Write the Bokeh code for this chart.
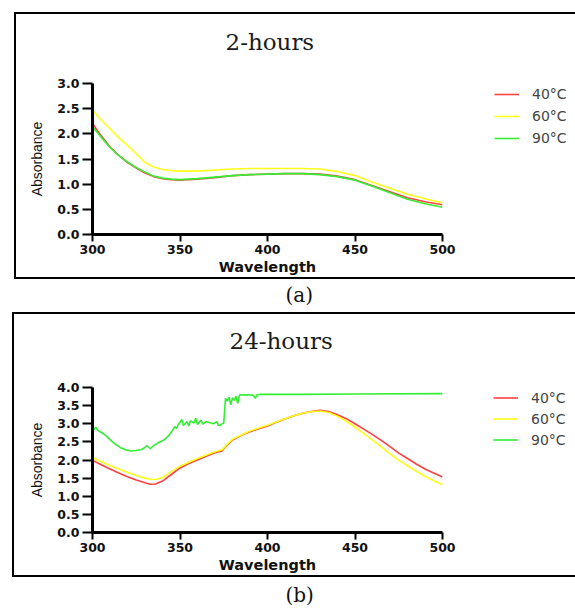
from bokeh.plotting import figure
from bokeh.models import (Range1d, FixedTicker, PrintfTickFormatter, Legend,
                          LegendItem, Title)
from bokeh.layouts import column, row
from bokeh.embed import file_html
from bokeh.resources import INLINE

# ---------------- data ----------------
series_labels = ["40°C", "60°C", "90°C"]
x_ticks = [300, 350, 400, 450, 500]
y_ticks_a = [0.0, 0.5, 1.0, 1.5, 2.0, 2.5, 3.0]
y_ticks_b = [0.0, 0.5, 1.0, 1.5, 2.0, 2.5, 3.0, 3.5, 4.0]

# (a) 2-hours
wl_a = [300, 305, 310, 315, 320, 325, 330, 335, 340, 345, 350, 360, 370, 380,
        390, 400, 410, 420, 430, 440, 450, 460, 470, 480, 490, 500]
a_40 = [2.20, 1.96, 1.74, 1.57, 1.43, 1.32, 1.22, 1.15, 1.11, 1.09, 1.08, 1.10,
        1.13, 1.17, 1.19, 1.20, 1.21, 1.21, 1.20, 1.16, 1.09, 0.97, 0.85, 0.73,
        0.65, 0.59]
a_60 = [2.47, 2.27, 2.10, 1.92, 1.77, 1.60, 1.43, 1.34, 1.29, 1.27, 1.26, 1.26,
        1.28, 1.30, 1.31, 1.31, 1.31, 1.31, 1.30, 1.25, 1.17, 1.04, 0.92, 0.80,
        0.71, 0.63]
a_90 = [2.14, 1.93, 1.73, 1.57, 1.44, 1.33, 1.24, 1.16, 1.12, 1.10, 1.09, 1.11,
        1.14, 1.17, 1.19, 1.20, 1.21, 1.21, 1.19, 1.15, 1.08, 0.96, 0.83, 0.70,
        0.61, 0.54]

# (b) 24-hours
wl_b = [300, 305, 310, 315, 320, 325, 330, 333, 336, 340, 345, 350, 355, 360,
        365, 370, 374, 376, 380, 385, 390, 395, 400, 405, 410, 415, 420, 425,
        430, 435, 440, 445, 450, 455, 460, 465, 470, 475, 480, 485, 490, 495, 500]
b_40 = [1.99, 1.87, 1.75, 1.64, 1.54, 1.45, 1.37, 1.33, 1.34, 1.42, 1.60, 1.78,
        1.90, 2.00, 2.10, 2.20, 2.25, 2.37, 2.55, 2.68, 2.78, 2.86, 2.94, 3.04,
        3.13, 3.22, 3.29, 3.34, 3.37, 3.34, 3.25, 3.14, 3.00, 2.85, 2.70, 2.54,
        2.37, 2.19, 2.04, 1.89, 1.75, 1.64, 1.53]
b_60 = [2.06, 1.95, 1.85, 1.75, 1.66, 1.57, 1.50, 1.47, 1.46, 1.52, 1.68, 1.83,
        1.94, 2.04, 2.14, 2.23, 2.28, 2.39, 2.57, 2.69, 2.80, 2.88, 2.96, 3.05,
        3.14, 3.22, 3.29, 3.33, 3.35, 3.31, 3.21, 3.07, 2.91, 2.73, 2.55, 2.36,
        2.17, 1.99, 1.84, 1.69, 1.55, 1.43, 1.32]
wl_g = [300, 301, 302, 303, 305, 307, 310, 313, 316, 319, 322, 325, 328, 330,
        331, 333, 335, 337, 340, 342, 344, 346, 347, 348, 349, 350, 351, 352,
        354, 355, 356, 358, 359, 360, 362, 363, 365, 367, 369, 371, 372, 373,
        374, 375, 376, 377, 378, 379, 380, 381, 382, 383, 384, 386, 388, 390,
        392, 393, 394, 396, 400, 420, 450, 500]
b_90 = [2.92, 2.85, 2.90, 2.82, 2.76, 2.70, 2.56, 2.44, 2.34, 2.28, 2.25, 2.26,
        2.29, 2.35, 2.40, 2.31, 2.40, 2.46, 2.53, 2.60, 2.70, 2.84, 2.92, 2.87,
        2.98, 3.04, 3.12, 2.95, 3.06, 2.94, 3.08, 3.02, 3.15, 2.98, 3.10, 2.99,
        3.06, 3.03, 3.00, 3.06, 2.95, 2.96, 3.00, 3.02, 3.70, 3.62, 3.73, 3.52,
        3.72, 3.64, 3.76, 3.56, 3.79, 3.80, 3.79, 3.80, 3.78, 3.70, 3.80, 3.81,
        3.81, 3.81, 3.82, 3.83]

COLORS = ["#ff4040", "#ffff1a", "#33ee33"]
W_MAIN, W_SIDE = 460, 115
ML, MR = 92, 18


def clean(p):
    p.outline_line_color = None
    p.grid.visible = False
    p.background_fill_color = None
    p.border_fill_color = None
    p.title.visible = False


def make_panel(height, mt, mb, ymax, yticks, xs_list, ys_list, title,
               title_offset, title_standoff, row_h, leg_xy, tag,
               tag_offset, tag_standoff):
    p = figure(width=W_MAIN, height=height, x_range=Range1d(300, 500),
               y_range=Range1d(0, ymax), output_backend="svg",
               toolbar_location=None, min_border_left=ML, min_border_right=MR,
               min_border_top=mt, min_border_bottom=mb)
    clean(p)
    for xs, ys, c in zip(xs_list, ys_list, COLORS):
        p.line(xs, ys, line_color=c, line_width=1.6)

    p.xaxis.ticker = FixedTicker(ticks=x_ticks)
    p.yaxis.ticker = FixedTicker(ticks=yticks)
    p.yaxis.formatter = PrintfTickFormatter(format="%.1f")
    for ax in (p.xaxis[0], p.yaxis[0]):
        ax.axis_line_width = 3
        ax.axis_line_color = "black"
        ax.major_tick_line_width = 2
        ax.major_tick_line_color = "black"
        ax.major_tick_in = 0
        ax.minor_tick_line_color = None
        ax.major_label_text_font = "DejaVu Sans"
        ax.major_label_text_font_style = "bold"
        ax.major_label_text_font_size = "12.5px"
        ax.major_label_text_color = "#111111"
    xa = p.xaxis[0]
    xa.major_tick_out = 7
    xa.major_label_standoff = 3
    xa.axis_label = "Wavelength"
    xa.axis_label_text_font = "DejaVu Sans"
    xa.axis_label_text_font_style = "bold"
    xa.axis_label_text_font_size = "14.5px"
    xa.axis_label_text_color = "#111111"
    xa.axis_label_standoff = 2
    ya = p.yaxis[0]
    ya.major_tick_out = 10
    ya.major_label_standoff = 3
    ya.axis_label = "Absorbance"
    ya.axis_label_text_font = "Liberation Sans"
    ya.axis_label_text_font_style = "normal"
    ya.axis_label_text_font_size = "14px"
    ya.axis_label_text_color = "#111111"
    ya.axis_label_standoff = 9

    p.add_layout(Title(text=title + "\n ", align="left", offset=title_offset,
                       standoff=title_standoff, text_font="DejaVu Serif",
                       text_font_size="23px", text_font_style="normal",
                       text_color="#1a1a1a"), "above")
    p.add_layout(Title(text=tag, align="left", offset=tag_offset,
                       standoff=tag_standoff, text_font="DejaVu Serif",
                       text_font_size="20px", text_font_style="normal",
                       text_color="#111111"), "below")

    # legend lives in a narrow companion figure to the right; its renderers
    # carry the same series but fall outside that figure's (0, 1) ranges
    s = figure(width=W_SIDE, height=height, x_range=Range1d(0, 1),
               y_range=Range1d(0, 1), output_backend="svg",
               toolbar_location=None, x_axis_location=None,
               y_axis_location=None, min_border_left=0, min_border_right=0,
               min_border_top=mt, min_border_bottom=mb)
    clean(s)
    proxies = [s.line(xs, ys, line_color=c, line_width=1.6)
               for xs, ys, c in zip(xs_list, ys_list, COLORS)]
    items = [LegendItem(label=lab, renderers=[r])
             for lab, r in zip(series_labels, proxies)]
    legend = Legend(items=items, location=leg_xy, orientation="vertical",
                    padding=0, margin=0, spacing=0, glyph_width=25,
                    glyph_height=row_h, label_height=row_h, label_standoff=13,
                    label_text_font="DejaVu Sans", label_text_font_size="14px",
                    label_text_color="#444444", border_line_color=None,
                    background_fill_alpha=0)
    s.add_layout(legend)
    return row(p, s, spacing=0)


ra = make_panel(311, 83, 77, 3.0, y_ticks_a,
                [wl_a, wl_a, wl_a], [a_40, a_60, a_90],
                "2-hours", 133, 5, 22, (34, 85), "(a)", 193, 6)
rb = make_panel(300, 76, 79, 4.0, y_ticks_b,
                [wl_b, wl_b, wl_g], [b_40, b_60, b_90],
                "24-hours", 137, 16, 21, (33, 82), "(b)", 193, 10)

# outer boxes drawn as CSS lines behind the transparent figures
bg_images = ", ".join(["linear-gradient(#000,#000)"] * 6)
bg_sizes = "561px 2px, 2px 267px, 561px 2px, 563px 2px, 2px 265px, 563px 2px"
bg_pos = "14px 12px, 14px 12px, 14px 277px, 12px 312px, 12px 312px, 12px 575px"
layout = column(ra, rb, spacing=0, styles={
    "background-color": "white",
    "background-image": bg_images,
    "background-size": bg_sizes,
    "background-position": bg_pos,
    "background-repeat": "no-repeat",
})
open("out.html", "w").write(file_html(layout, INLINE))
